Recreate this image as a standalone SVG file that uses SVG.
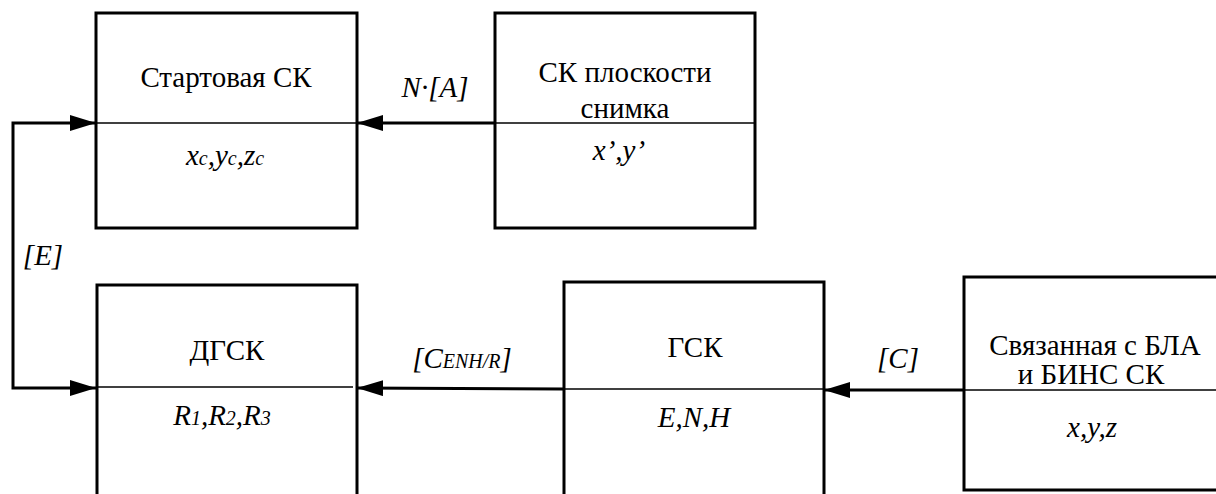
<svg xmlns="http://www.w3.org/2000/svg" width="1216" height="494" viewBox="0 0 1216 494">
  <style>
    .box { fill: #fff; stroke: #000; stroke-width: 3; }
    .div { stroke: #000; stroke-width: 1.5; fill: none; }
    .wire { stroke: #000; stroke-width: 3; fill: none; }
    text { font-size: 29px; fill: #000; text-anchor: middle; }
    .i { font-style: italic; }
    .s { font-size: 20px; }
  </style>
  <defs>
    <marker id="arrow" viewBox="0 0 26 16" refX="26" refY="8" markerWidth="26" markerHeight="16" markerUnits="userSpaceOnUse" orient="auto-start-reverse">
      <path d="M0,0 L26,8 L0,16 Z" fill="#000"/>
    </marker>
  </defs>

  <g font-family="Times New Roman, Liberation Serif, Tinos, Noto Serif, DejaVu Serif, serif">
  <!-- Start coordinate system -->
  <g id="start-ck">
    <rect class="box" x="96" y="13" width="261" height="215"/>
    <line class="div" x1="96" y1="123" x2="357" y2="123"/>
    <text x="226" y="87">Стартовая СК</text>
    <text class="i" x="225" y="165">x<tspan class="s">c</tspan>,y<tspan class="s">c</tspan>,z<tspan class="s">c</tspan></text>
  </g>

  <!-- Image plane coordinate system -->
  <g id="image-plane">
    <rect class="box" x="495" y="13" width="260" height="215"/>
    <line class="div" x1="495" y1="123" x2="755" y2="123"/>
    <text x="625" y="82">СК плоскости</text>
    <text x="625" y="118">снимка</text>
    <text class="i" x="619" y="160">x’,y’</text>
  </g>

  <!-- Geocentric rectangular system -->
  <g id="dgsk">
    <path class="box" d="M97,496 V285 H357 V496"/>
    <line class="div" x1="97" y1="387" x2="353" y2="387"/>
    <text x="227" y="360">ДГСК</text>
    <text class="i" x="222" y="425">R<tspan class="s">1</tspan>,R<tspan class="s">2</tspan>,R<tspan class="s">3</tspan></text>
  </g>

  <!-- Geodetic system -->
  <g id="gsk">
    <path class="box" d="M564,496 V282 H824 V496"/>
    <line class="div" x1="564" y1="389" x2="824" y2="389"/>
    <text x="695" y="357">ГСК</text>
    <text class="i" x="694" y="427">E,N,H</text>
  </g>

  <!-- Body frame tied to the UAV and the INS -->
  <g id="body-frame">
    <path class="box" d="M1220,277 H964 V490 H1220"/>
    <line class="div" x1="964" y1="390" x2="1216" y2="390"/>
    <text x="1095" y="355">Связанная с БЛА</text>
    <text x="1091" y="384">и БИНС СК</text>
    <text class="i" x="1092" y="437">x,y,z</text>
  </g>

  <!-- Transformations between systems -->
  <g id="connectors">
    <line class="wire" x1="495" y1="123" x2="357" y2="123" marker-end="url(#arrow)"/>
    <path class="wire" d="M96,123 H13 V388 H96" marker-start="url(#arrow)" marker-end="url(#arrow)"/>
    <line class="wire" x1="564" y1="389" x2="357" y2="388" marker-end="url(#arrow)"/>
    <line class="wire" x1="964" y1="390" x2="824" y2="390" marker-end="url(#arrow)"/>
    <text class="i" x="435" y="97">N·[A]</text>
    <text class="i" x="43" y="265">[E]</text>
    <text class="i" x="462" y="368">[C<tspan class="s">ENH/R</tspan>]</text>
    <text class="i" x="898" y="368">[C]</text>
  </g>
  </g>
</svg>
